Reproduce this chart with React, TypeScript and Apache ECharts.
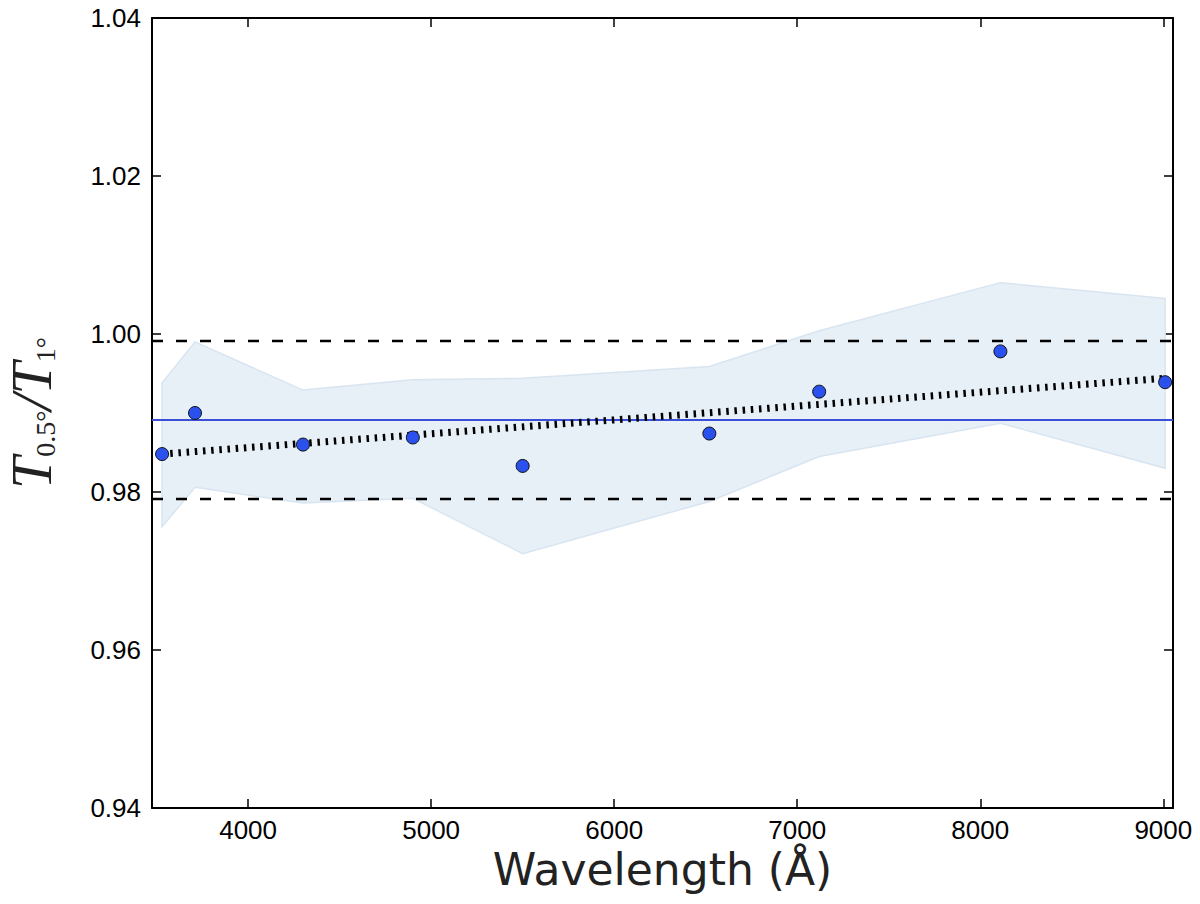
import { useEffect, useRef } from 'react'
import * as echarts from 'echarts'

// 数据：波长 (Å) 与比值 T0.5°/T1°
const wavelengths = [3530, 3710, 4300, 4900, 5500, 6520, 7120, 8110, 9010]
const ratios = [0.9848, 0.99, 0.986, 0.9869, 0.9833, 0.9874, 0.9927, 0.9978, 0.9939]
// 误差带的上下边界
const bandUpper = [0.9938, 0.999, 0.9929, 0.9942, 0.9944, 0.9959, 1.0004, 1.0065, 1.0045]
const bandLower = [0.9756, 0.9806, 0.9786, 0.9792, 0.9722, 0.9788, 0.9845, 0.9887, 0.983]
// 平均值与 ±0.01 虚线
const meanRatio = 0.9891
const limitUpper = 0.9991
const limitLower = 0.9791
// 线性拟合两端
const fitX = [3530, 9010]
const fitY = [0.9848, 0.9944]
// 坐标轴范围与刻度
const xRange = [3475, 9053]
const yRange = [0.94, 1.04]
const xTicks = [4000, 5000, 6000, 7000, 8000, 9000]
const yTicks = [0.94, 0.96, 0.98, 1.0, 1.02, 1.04]

// 水平线：从 x 轴最小值画到最大值
const hLine = (v: number) => xRange.map((x) => [x, v])

const App: React.FC = () => {
  const chartRef = useRef<HTMLDivElement>(null)

  useEffect(() => {
    if (!chartRef.current) return
    document.body.style.margin = '0'
    const mychart = echarts.init(chartRef.current, null, { renderer: 'svg' })

    const tick = { show: true, inside: true, length: 9, lineStyle: { color: '#000', width: 1.5 } }
    const line = { show: true, onZero: false, lineStyle: { color: '#000', width: 2 } }
    const label = { color: '#000', fontSize: 26, fontFamily: 'Liberation Sans' }

    const option: any = {
      animation: false,
      backgroundColor: '#fff',
      grid: { left: 152, right: 27, top: 18, bottom: 96, outerBoundsMode: 'none' },
      xAxis: [
        {
          type: 'value',
          min: xRange[0],
          max: xRange[1],
          axisLine: line,
          axisTick: { ...tick, customValues: xTicks },
          axisLabel: { ...label, margin: 9, customValues: xTicks, formatter: (v: number) => String(v) },
          splitLine: { show: false },
          name: 'Wavelength (Å)',
          nameLocation: 'middle',
          nameGap: 36,
          nameTextStyle: { fontSize: 44, fontFamily: 'DejaVu Sans', color: '#222' }
        },
        {
          type: 'value',
          position: 'top',
          min: xRange[0],
          max: xRange[1],
          axisLine: line,
          axisTick: { ...tick, customValues: xTicks },
          axisLabel: { show: false },
          splitLine: { show: false }
        }
      ],
      yAxis: [
        {
          type: 'value',
          min: yRange[0],
          max: yRange[1],
          axisLine: line,
          axisTick: { ...tick, customValues: yTicks },
          axisLabel: {
            ...label,
            margin: 11,
            customValues: yTicks,
            formatter: (v: number) => v.toFixed(2)
          },
          splitLine: { show: false }
        },
        {
          type: 'value',
          position: 'right',
          min: yRange[0],
          max: yRange[1],
          axisLine: line,
          axisTick: { ...tick, customValues: yTicks },
          axisLabel: { show: false },
          splitLine: { show: false }
        }
      ],
      graphic: [
        {
          type: 'text',
          x: 31,
          y: 413,
          rotation: Math.PI / 2,
          style: {
            text: '{t|T}{s|0.5°}{t|/T}{s|1°}',
            align: 'center',
            verticalAlign: 'middle',
            fill: '#222',
            rich: {
              t: { fontSize: 58, fontStyle: 'italic', fontFamily: 'Liberation Serif', lineHeight: 56, fill: '#222' },
              s: { fontSize: 28, fontFamily: 'Liberation Serif', lineHeight: 56, verticalAlign: 'bottom', fill: '#222' }
            }
          }
        }
      ],
      series: [
        {
          // 误差带
          type: 'custom',
          z: 1,
          silent: true,
          data: wavelengths.map((w, i) => [w, bandUpper[i]]),
          renderItem: (params: any, api: any) => {
            if (params.dataIndex !== 0) return null
            const up = wavelengths.map((w, i) => api.coord([w, bandUpper[i]]))
            const low = wavelengths.map((w, i) => api.coord([w, bandLower[i]])).reverse()
            return {
              type: 'polygon',
              shape: { points: up.concat(low) },
              style: { fill: '#e7eff7', stroke: '#d8e5f1', lineWidth: 1.5 }
            }
          }
        },
        {
          type: 'line',
          z: 2,
          data: hLine(limitUpper),
          symbol: 'none',
          lineStyle: { color: '#000', width: 2.5, type: [11, 13] }
        },
        {
          type: 'line',
          z: 2,
          data: hLine(limitLower),
          symbol: 'none',
          lineStyle: { color: '#000', width: 2.5, type: [11, 13] }
        },
        {
          type: 'line',
          z: 2,
          data: hLine(meanRatio),
          symbol: 'none',
          lineStyle: { color: '#3a4fd6', width: 2 }
        },
        {
          // 线性拟合
          type: 'line',
          z: 3,
          data: fitX.map((x, i) => [x, fitY[i]]),
          symbol: 'none',
          lineStyle: { color: '#000', width: 7, type: [2.5, 5.7], cap: 'butt' }
        },
        {
          type: 'scatter',
          z: 4,
          data: wavelengths.map((w, i) => [w, ratios[i]]),
          symbolSize: 13,
          itemStyle: { color: '#2a50ee', borderColor: '#111', borderWidth: 1, opacity: 1 }
        }
      ]
    }
    mychart.setOption(option)
    return () => {
      mychart.dispose()
    }
  }, [])

  return <div ref={chartRef} style={{ width: '1200px', height: '904px' }}></div>
}

export default App
